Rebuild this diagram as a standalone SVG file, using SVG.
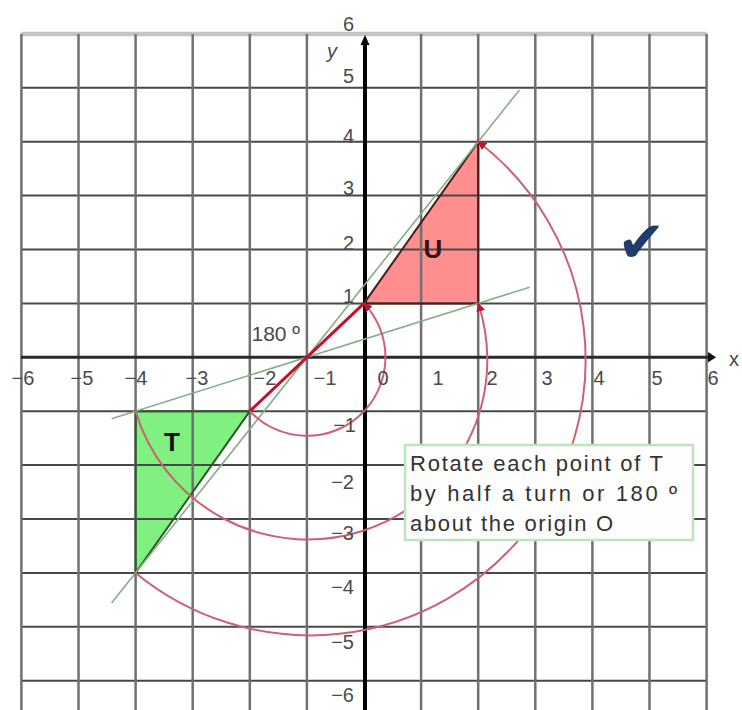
<svg xmlns="http://www.w3.org/2000/svg" width="742" height="710" viewBox="0 0 742 710">
<defs>
<style>
.gh{stroke:#484848;stroke-width:2}
.gv{stroke:#707070;stroke-width:2.5}
.lbl{font-family:"Liberation Sans",Arial,sans-serif;font-size:20px;fill:#4a4a4a}
.yl{text-anchor:end}
.xl{text-anchor:middle}
.guide{stroke:#86ad86;stroke-width:1.6;fill:none}
.arc{stroke:#cf5f74;stroke-width:2;fill:none;marker-end:url(#ah)}
.note{font-family:"Liberation Sans",Arial,sans-serif;font-size:22px;fill:#333}
.big{font-family:"Liberation Sans",Arial,sans-serif;font-size:26px;font-weight:bold}
</style>
<marker id="ah" viewBox="0 0 10 10" refX="9" refY="5" markerWidth="4.5" markerHeight="4.5" orient="auto" markerUnits="strokeWidth">
<path d="M0,0 L10,5 L0,10 z" fill="#c8102e"/>
</marker>
</defs>
<rect width="742" height="710" fill="#fff"/>

<g id="fills">
<polygon points="364,303.4 478.2,141.7 478.2,303.4" fill="#ff8f8f"/>
<polygon points="135.6,411.2 249.8,411.2 135.6,572.9" fill="#80f080"/>
</g>

<g id="grid">
<line x1="21" y1="33.9" x2="707" y2="33.9" stroke="#c4c4c4" stroke-width="4.5"/>
<g class="gh">
<line x1="21" y1="87.8" x2="707" y2="87.8"/>
<line x1="21" y1="141.7" x2="707" y2="141.7"/>
<line x1="21" y1="195.6" x2="707" y2="195.6"/>
<line x1="21" y1="249.5" x2="707" y2="249.5"/>
<line x1="21" y1="303.4" x2="707" y2="303.4"/>
<line x1="21" y1="411.2" x2="707" y2="411.2"/>
<line x1="21" y1="465.1" x2="707" y2="465.1"/>
<line x1="21" y1="519" x2="707" y2="519"/>
<line x1="21" y1="572.9" x2="707" y2="572.9"/>
<line x1="21" y1="626.8" x2="707" y2="626.8"/>
<line x1="21" y1="680.7" x2="707" y2="680.7"/>
</g>
<g class="gv">
<line x1="21.4" y1="34" x2="21.4" y2="710"/>
<line x1="78.5" y1="34" x2="78.5" y2="710"/>
<line x1="135.6" y1="34" x2="135.6" y2="710"/>
<line x1="192.7" y1="34" x2="192.7" y2="710"/>
<line x1="249.8" y1="34" x2="249.8" y2="710"/>
<line x1="306.9" y1="34" x2="306.9" y2="710"/>
<line x1="421.1" y1="34" x2="421.1" y2="710"/>
<line x1="478.2" y1="34" x2="478.2" y2="710"/>
<line x1="535.3" y1="34" x2="535.3" y2="710"/>
<line x1="592.4" y1="34" x2="592.4" y2="710"/>
<line x1="649.5" y1="34" x2="649.5" y2="710"/>
<line x1="706.6" y1="34" x2="706.6" y2="710"/>
</g>
</g>

<g id="axes">
<line x1="21" y1="357.3" x2="710" y2="357.3" stroke="#2a2a2a" stroke-width="3"/>
<path d="M708,352 L716,357.3 L708,362.6 z" fill="#111"/>
<line x1="365" y1="44" x2="365" y2="710" stroke="#000" stroke-width="4"/>
<path d="M360.5,45 L365,35 L369.5,45 z" fill="#000"/>
</g>

<g id="triangle-U">
<polygon points="364,303.4 478.2,141.7 478.2,303.4" fill="none" stroke="#4a1c1c" stroke-width="2"/>
<text class="big" x="433" y="258" text-anchor="middle" fill="#3a1010">U</text>
</g>

<g id="triangle-T">
<polygon points="135.6,411.2 249.8,411.2 135.6,572.9" fill="none" stroke="#2c5a2c" stroke-width="2"/>
<text class="big" x="172" y="451" text-anchor="middle" fill="#111">T</text>
</g>

<g id="connectors">
<line class="guide" x1="111.6" y1="418.7" x2="529.7" y2="287.2"/>
<line class="guide" x1="111.6" y1="603.1" x2="519.4" y2="89.9"/>
<line x1="249.8" y1="411.2" x2="364" y2="303.4" stroke="#c4102c" stroke-width="3"/>
<path class="arc" d="M249.8,411.2 A78.5,78.5 0 1 0 364,303.4"/>
<path class="arc" d="M135.6,411.2 A179.6,179.6 0 1 0 478.2,303.4"/>
<path class="arc" d="M135.6,572.9 A275.4,275.4 0 1 0 478.2,141.7"/>
</g>

<g id="note">
<rect x="405" y="445" width="288" height="95" fill="#fdfefd" stroke="#bfe3bf" stroke-width="2.5"/>
<text class="note" x="410" y="471" textLength="253" lengthAdjust="spacing">Rotate each point of T</text>
<text class="note" x="410" y="501" textLength="267" lengthAdjust="spacing">by half a turn or 180 º</text>
<text class="note" x="410" y="531" textLength="203" lengthAdjust="spacing">about the origin O</text>
</g>

<g id="labels" class="lbl">
<text x="300" y="341" text-anchor="end" font-size="21">180 º</text>
<text x="332" y="58" class="xl" font-style="italic">y</text>
<text x="734" y="366" class="xl">x</text>
<text class="yl" x="354" y="31">6</text>
<text class="yl" x="354" y="83">5</text>
<text class="yl" x="354" y="143">4</text>
<text class="yl" x="354" y="195">3</text>
<text class="yl" x="354" y="250">2</text>
<text class="yl" x="354" y="303">1</text>
<text class="yl" x="356" y="432">−1</text>
<text class="yl" x="354" y="489">−2</text>
<text class="yl" x="354" y="540">−3</text>
<text class="yl" x="354" y="594">−4</text>
<text class="yl" x="354" y="649">−5</text>
<text class="yl" x="354" y="702">−6</text>
<text class="xl" x="23" y="385">−6</text>
<text class="xl" x="82" y="385">−5</text>
<text class="xl" x="136" y="385">−4</text>
<text class="xl" x="197" y="385">−3</text>
<text class="xl" x="265" y="385">−2</text>
<text class="xl" x="325" y="385">−1</text>
<text class="xl" x="383" y="385">0</text>
<text class="xl" x="438" y="385">1</text>
<text class="xl" x="492" y="385">2</text>
<text class="xl" x="547" y="385">3</text>
<text class="xl" x="599" y="385">4</text>
<text class="xl" x="657" y="385">5</text>
<text class="xl" x="713" y="385">6</text>
</g>

<g id="tick">
<text x="617" y="262" font-family="'DejaVu Sans',sans-serif" font-size="58" fill="#1e3c6e">✔</text>
</g>
</svg>
